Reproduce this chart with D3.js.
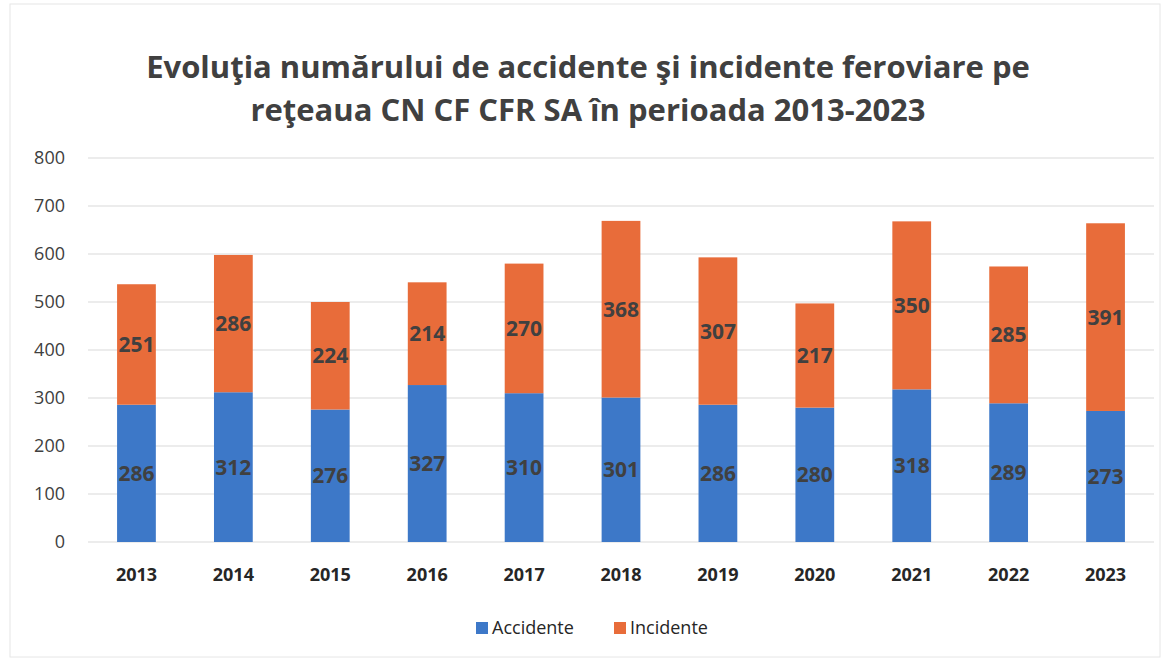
<!DOCTYPE html>
<html>
<head>
<meta charset="utf-8">
<script src="https://cdn.jsdelivr.net/npm/d3@7"></script>
<style>
  body { margin: 0; background: #fff; }
  svg { display: block; font-family: 'Open Sans', 'Noto Sans', sans-serif; }
</style>
</head>
<body>
<div id="chart"></div>
<script>
const years = ['2013', '2014', '2015', '2016', '2017', '2018', '2019', '2020', '2021', '2022', '2023'];
const accidente = [286, 312, 276, 327, 310, 301, 286, 280, 318, 289, 273];
const incidente = [251, 286, 224, 214, 270, 368, 307, 217, 350, 285, 391];
const seriesNames = ['Accidente', 'Incidente'];
const yTicks = [0, 100, 200, 300, 400, 500, 600, 700, 800];
const titleLines = ['Evoluţia numărului de accidente şi incidente feroviare pe', 'reţeaua CN CF CFR SA în perioada 2013-2023'];

const W = 1170, H = 661;
const margin = {top: 158, right: 16, bottom: 119, left: 88};
const width = W - margin.left - margin.right;
const height = H - margin.top - margin.bottom;
const colors = ['#3d78c8', '#e86c3a'];

const svg = d3.select('#chart').append('svg')
    .attr('width', W)
    .attr('height', H);

svg.append('rect')
    .attr('x', 10).attr('y', 4)
    .attr('width', W - 20).attr('height', H - 8)
    .attr('fill', 'none')
    .attr('stroke', '#e6e6e6');

svg.selectAll('.title')
    .data(titleLines)
    .enter().append('text')
    .attr('x', 588)
    .attr('y', (d, i) => 78 + i * 43)
    .attr('text-anchor', 'middle')
    .attr('font-size', '31px')
    .attr('font-weight', 'bold')
    .attr('fill', '#404040')
    .text(d => d);

const rows = years.map((y, i) => ({year: y, Accidente: accidente[i], Incidente: incidente[i]}));
const stacked = d3.stack().keys(seriesNames)(rows);

const x = d3.scaleBand().domain(years).range([0, width]).paddingInner(0.6).paddingOuter(0.3);
const y = d3.scaleLinear().domain([0, 800]).range([height, 0]);

const chart = svg.append('g')
    .attr('transform', `translate(${margin.left},${margin.top})`);

chart.append('g')
    .selectAll('line')
    .data(yTicks)
    .enter().append('line')
    .attr('x1', 0).attr('x2', width)
    .attr('y1', d => y(d)).attr('y2', d => y(d))
    .attr('stroke', '#d9d9d9')
    .attr('stroke-width', 1);

const yAxis = chart.append('g')
    .call(d3.axisLeft(y).tickValues(yTicks).tickSize(0).tickPadding(23));
yAxis.select('.domain').remove();
yAxis.selectAll('text')
    .attr('font-size', '18px')
    .attr('font-family', "'Open Sans', sans-serif")
    .attr('fill', '#404040');

const xAxis = chart.append('g')
    .attr('transform', `translate(0,${height})`)
    .call(d3.axisBottom(x).tickSize(0).tickPadding(26));
xAxis.select('.domain').remove();
xAxis.selectAll('text')
    .attr('font-size', '18px')
    .attr('font-weight', 'bold')
    .attr('font-family', "'Open Sans', sans-serif")
    .attr('fill', '#262626');

const layers = chart.selectAll('.layer')
    .data(stacked)
    .enter().append('g')
    .attr('fill', (d, i) => colors[i]);

layers.selectAll('rect')
    .data(d => d)
    .enter().append('rect')
    .attr('x', d => x(d.data.year))
    .attr('y', d => y(d[1]))
    .attr('width', x.bandwidth())
    .attr('height', d => y(d[0]) - y(d[1]));

layers.selectAll('.lbl')
    .data(d => d)
    .enter().append('text')
    .attr('x', d => x(d.data.year) + x.bandwidth() / 2)
    .attr('y', d => (y(d[0]) + y(d[1])) / 2)
    .attr('dy', '.36em')
    .attr('text-anchor', 'middle')
    .attr('font-size', '21px')
    .attr('font-weight', 'bold')
    .attr('fill', '#404040')
    .text(d => d[1] - d[0]);

const legend = svg.selectAll('.legend')
    .data(seriesNames)
    .enter().append('g')
    .attr('transform', (d, i) => `translate(${476 + i * 138},628)`);

legend.append('rect')
    .attr('x', 0).attr('y', -6)
    .attr('width', 12).attr('height', 12)
    .attr('fill', (d, i) => colors[i]);

legend.append('text')
    .attr('x', 16)
    .attr('dy', '.35em')
    .attr('font-size', '18px')
    .attr('fill', '#262626')
    .text(d => d);
</script>
</body>
</html>
